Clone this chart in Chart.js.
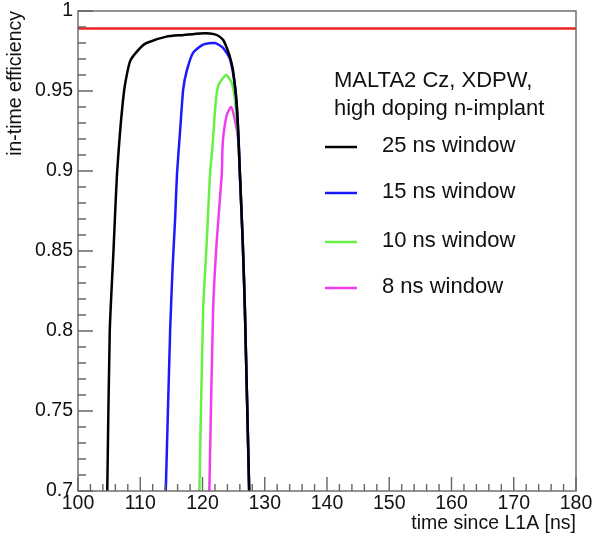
<!DOCTYPE html>
<html>
<head>
<meta charset="utf-8">
<script src="https://cdn.jsdelivr.net/npm/chart.js@4.4.1/dist/chart.umd.min.js"></script>
<style>
  html, body { margin: 0; padding: 0; background: #fff; }
  #wrap { width: 594px; height: 538px; }
</style>
</head>
<body>
<div id="wrap"><canvas id="effChart" width="594" height="538"></canvas></div>
<script>
// in-time efficiency vs time since L1A, one curve per timing window
const time25 = [104.7, 105.1, 105.7, 106.3, 107.4, 108.4, 110.0, 111.0, 114.2, 117.0, 119.6, 121.2, 122.3, 123.3, 124.0, 124.5, 124.9, 125.5, 126.0, 126.45, 126.8, 127.5];
const eff25  = [0.700, 0.800, 0.850, 0.900, 0.950, 0.969, 0.977, 0.980, 0.984, 0.985, 0.986, 0.986, 0.985, 0.982, 0.976, 0.970, 0.963, 0.942, 0.900, 0.857, 0.815, 0.700];

const time15 = [114.1, 114.8, 115.2, 115.6, 115.9, 116.4, 116.9, 117.5, 118.5, 120.1, 122.0, 123.3, 124.4, 125.2, 125.75, 126.0, 126.45, 126.8, 127.5];
const eff15  = [0.700, 0.800, 0.840, 0.870, 0.898, 0.925, 0.951, 0.963, 0.974, 0.979, 0.980, 0.977, 0.970, 0.953, 0.925, 0.898, 0.857, 0.815, 0.700];

const time10 = [119.5, 120.1, 120.7, 121.2, 121.6, 121.9, 122.2, 122.6, 123.8, 124.7, 125.2, 125.75, 126.0, 126.45, 126.8, 127.5];
const eff10  = [0.700, 0.813, 0.857, 0.898, 0.915, 0.932, 0.946, 0.954, 0.960, 0.955, 0.945, 0.920, 0.898, 0.857, 0.815, 0.700];

const time8 = [121.1, 121.7, 122.3, 123.1, 123.2, 123.35, 123.9, 124.6, 125.2, 125.75, 126.0, 126.45, 126.8, 127.5];
const eff8  = [0.700, 0.813, 0.857, 0.898, 0.913, 0.922, 0.935, 0.940, 0.932, 0.919, 0.898, 0.857, 0.815, 0.700];

const targetTime = [100, 180];
const targetEff = [0.989, 0.989];

const windowLabels = ["25 ns window", "15 ns window", "10 ns window", "8 ns window"];
const windowColors = ["#000000", "#1a1aff", "#66f044", "#f03cf0"];
const legendTitle = ["MALTA2 Cz, XDPW,", "high doping n-implant"];

const FONT = "'Liberation Sans', Arial, Helvetica, sans-serif";

function toPoints(xs, ys) {
    return xs.map((x, i) => ({ x: x, y: ys[i] }));
}

// ROOT-like frame with inward ticks
const rootFrame = {
    id: 'rootFrame',
    afterDatasetsDraw(chart) {
        const { ctx, chartArea: a, scales: { x, y } } = chart;
        ctx.save();
        ctx.strokeStyle = '#666';
        ctx.lineWidth = 1.4;
        ctx.strokeRect(a.left, a.top, a.right - a.left, a.bottom - a.top);
        ctx.beginPath();
        for (let v = 100; v <= 180; v += 2) {
            const px = x.getPixelForValue(v);
            const len = v % 10 === 0 ? 14 : 7;
            ctx.moveTo(px, a.bottom);
            ctx.lineTo(px, a.bottom - len);
        }
        for (let i = 70; i <= 100; i++) {
            const py = y.getPixelForValue(i / 100);
            const len = i % 5 === 0 ? 15 : 8;
            ctx.moveTo(a.left, py);
            ctx.lineTo(a.left + len, py);
        }
        ctx.stroke();
        ctx.restore();
    }
};

// legend box as in the original plot
const rootLegend = {
    id: 'rootLegend',
    afterDraw(chart) {
        const ctx = chart.ctx;
        ctx.save();
        ctx.fillStyle = '#111';
        ctx.font = '22px ' + FONT;
        ctx.textBaseline = 'middle';
        ctx.textAlign = 'left';
        ctx.fillText(legendTitle[0], 334, 81);
        ctx.fillText(legendTitle[1], 334, 109);
        const rows = [147, 193, 242, 288];
        windowLabels.forEach((lab, i) => {
            ctx.strokeStyle = windowColors[i];
            ctx.lineWidth = 2.5;
            ctx.beginPath();
            ctx.moveTo(325, rows[i]);
            ctx.lineTo(357, rows[i]);
            ctx.stroke();
            ctx.fillText(lab, 382, rows[i] - 1);
        });
        ctx.restore();
    }
};

const lineStyle = { fill: false, pointRadius: 0, borderWidth: 2.5, tension: 0.2 };

const ctx = document.getElementById('effChart');
const effChart = new Chart(ctx, {
    type: 'line',
    data: {
        datasets: [
            { label: 'target', data: toPoints(targetTime, targetEff), borderColor: '#ee2222', ...lineStyle, tension: 0 },
            { label: windowLabels[0], data: toPoints(time25, eff25), borderColor: windowColors[0], ...lineStyle },
            { label: windowLabels[1], data: toPoints(time15, eff15), borderColor: windowColors[1], ...lineStyle },
            { label: windowLabels[2], data: toPoints(time10, eff10), borderColor: windowColors[2], ...lineStyle },
            { label: windowLabels[3], data: toPoints(time8, eff8), borderColor: windowColors[3], ...lineStyle },
        ],
    },
    options: {
        responsive: false,
        animation: false,
        events: [],
        layout: { padding: { top: 11, right: 18, left: 0, bottom: 0 } },
        plugins: { legend: { display: false }, tooltip: { enabled: false } },
        scales: {
            x: {
                type: 'linear',
                min: 100,
                max: 180,
                grid: { display: false, drawTicks: false },
                border: { display: false },
                ticks: { stepSize: 10, padding: 1, color: '#111', font: { family: FONT, size: 19.5 } },
                title: {
                    display: true,
                    text: 'time since L1A [ns]',
                    align: 'end',
                    color: '#111',
                    font: { family: FONT, size: 19.5 },
                    padding: { top: 0, bottom: 3 }
                },
                afterFit: (s) => { s.height = 47; }
            },
            y: {
                type: 'linear',
                min: 0.7,
                max: 1,
                grid: { display: false, drawTicks: true, tickLength: 5 },
                border: { display: false },
                ticks: {
                    stepSize: 0.05,
                    padding: 0,
                    color: '#111',
                    font: { family: FONT, size: 19.5, lineHeight: 1 },
                    callback: (v) => String(+v.toFixed(2))
                },
                title: {
                    display: true,
                    text: 'in-time efficiency',
                    align: 'end',
                    color: '#111',
                    font: { family: FONT, size: 19.5 },
                    padding: { top: 4, bottom: 0 }
                },
                afterFit: (s) => { s.width = 78; }
            }
        }
    },
    plugins: [rootFrame, rootLegend]
});
</script>
</body>
</html>
